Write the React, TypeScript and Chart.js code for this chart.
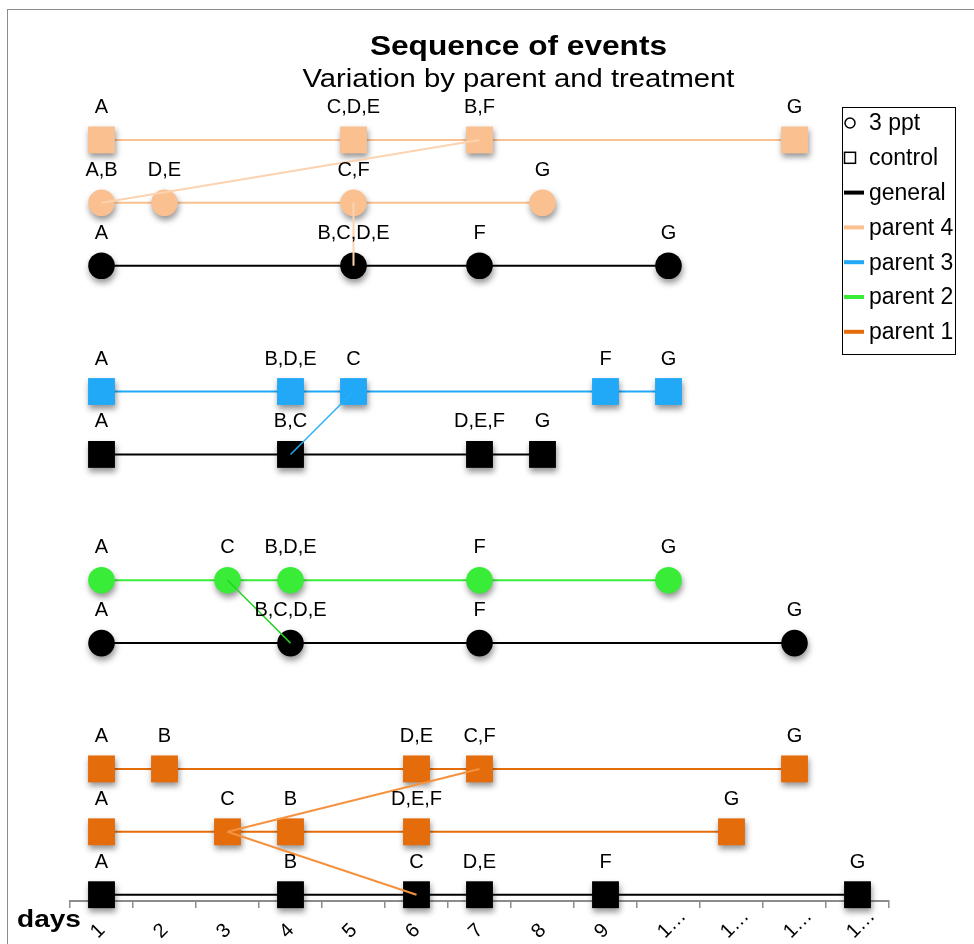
import React, { useEffect, useRef } from 'react';
import { Chart, registerables } from 'chart.js';

Chart.register(...registerables);

const FONT = '"Liberation Sans", Arial, Helvetica, sans-serif';

// ---------- categories / ticks ----------
const DAY_CATEGORIES = ['1', '2', '3', '4', '5', '6', '7', '8', '9', '10', '11', '12', '13'];
const DAY_TICK_LABELS = ['1', '2', '3', '4', '5', '6', '7', '8', '9', '1…', '1…', '1…', '1…'];

const TITLE = 'Sequence of events';
const SUBTITLE = 'Variation by parent and treatment';
const AXIS_TITLE = 'days';

// ---------- row levels (y values) ----------
const ROW_P4_CONTROL = 12;
const ROW_P4_PPT = 11;
const ROW_GEN_PPT_A = 10;
const ROW_P3_CONTROL = 8;
const ROW_GEN_CONTROL_A = 7;
const ROW_P2_PPT = 5;
const ROW_GEN_PPT_B = 4;
const ROW_P1_CONTROL_A = 2;
const ROW_P1_CONTROL_B = 1;
const ROW_GEN_CONTROL_B = 0;

// ---------- event days per row ----------
const P4_CONTROL_DAYS = [1, 5, 7, 12];
const P4_CONTROL_LABELS = ['A', 'C,D,E', 'B,F', 'G'];

const P4_PPT_DAYS = [1, 2, 5, 8];
const P4_PPT_LABELS = ['A,B', 'D,E', 'C,F', 'G'];

const GEN_PPT_A_DAYS = [1, 5, 7, 10];
const GEN_PPT_A_LABELS = ['A', 'B,C,D,E', 'F', 'G'];

const P3_CONTROL_DAYS = [1, 4, 5, 9, 10];
const P3_CONTROL_LABELS = ['A', 'B,D,E', 'C', 'F', 'G'];

const GEN_CONTROL_A_DAYS = [1, 4, 7, 8];
const GEN_CONTROL_A_LABELS = ['A', 'B,C', 'D,E,F', 'G'];

const P2_PPT_DAYS = [1, 3, 4, 7, 10];
const P2_PPT_LABELS = ['A', 'C', 'B,D,E', 'F', 'G'];

const GEN_PPT_B_DAYS = [1, 4, 7, 12];
const GEN_PPT_B_LABELS = ['A', 'B,C,D,E', 'F', 'G'];

const P1_CONTROL_A_DAYS = [1, 2, 6, 7, 12];
const P1_CONTROL_A_LABELS = ['A', 'B', 'D,E', 'C,F', 'G'];

const P1_CONTROL_B_DAYS = [1, 3, 4, 6, 11];
const P1_CONTROL_B_LABELS = ['A', 'C', 'B', 'D,E,F', 'G'];

const GEN_CONTROL_B_DAYS = [1, 4, 6, 7, 9, 13];
const GEN_CONTROL_B_LABELS = ['A', 'B', 'C', 'D,E', 'F', 'G'];

// ---------- connector links: [day, row] -> [day, row] ----------
const LINK_P4_B = [[1, ROW_P4_PPT], [7, ROW_P4_CONTROL]];
const LINK_P4_C = [[5, ROW_P4_PPT], [5, ROW_GEN_PPT_A]];
const LINK_P3_C = [[5, ROW_P3_CONTROL], [4, ROW_GEN_CONTROL_A]];
const LINK_P2_C = [[3, ROW_P2_PPT], [4, ROW_GEN_PPT_B]];
const LINK_P1_C_UP = [[3, ROW_P1_CONTROL_B], [7, ROW_P1_CONTROL_A]];
const LINK_P1_C_DOWN = [[3, ROW_P1_CONTROL_B], [6, ROW_GEN_CONTROL_B]];

// ---------- colours ----------
const C_GENERAL = '#000000';
const C_P4 = '#fac090';
const C_P3 = '#21a9f7';
const C_P2 = '#38ec38';
const C_P1 = '#e46c0a';
const C_P4_LINK = '#fcd3b0';
const C_P3_LINK = '#2aaef5';
const C_P2_LINK = '#26d326';
const C_P1_LINK = '#f5923f';

const LEGEND_ITEMS = [
  { label: '3 ppt', kind: 'circle', color: '#000' },
  { label: 'control', kind: 'square', color: '#000' },
  { label: 'general', kind: 'line', color: C_GENERAL },
  { label: 'parent 4', kind: 'line', color: C_P4 },
  { label: 'parent 3', kind: 'line', color: C_P3 },
  { label: 'parent 2', kind: 'line', color: C_P2 },
  { label: 'parent 1', kind: 'line', color: C_P1 },
];

const SQUARE_RADIUS = 19; // rect side = radius * sqrt(2)
const CIRCLE_RADIUS = 13.3;

function toPoints(days: number[], row: number) {
  return days.map((d) => ({ x: String(d), y: row }));
}

function rowDatasets(days: number[], labels: string[], row: number, color: string, shape: 'rect' | 'circle') {
  const data = toPoints(days, row);
  return [
    {
      data,
      borderColor: color,
      borderWidth: 2,
      pointRadius: 0,
      pointHoverRadius: 0,
      showLine: true,
      fill: false,
      order: 2,
      clip: false,
    },
    {
      data,
      showLine: false,
      pointStyle: shape,
      pointRadius: shape === 'rect' ? SQUARE_RADIUS : CIRCLE_RADIUS,
      pointHoverRadius: shape === 'rect' ? SQUARE_RADIUS : CIRCLE_RADIUS,
      pointBackgroundColor: color,
      pointBorderWidth: 0,
      pointBorderColor: color,
      borderColor: color,
      order: 1,
      clip: false,
      markerShadow: true,
      pointLabels: labels,
    },
  ];
}

function linkDataset(link: number[][], color: string, width: number) {
  return {
    data: link.map(([d, r]) => ({ x: String(d), y: r })),
    borderColor: color,
    borderWidth: width,
    pointRadius: 0,
    pointHoverRadius: 0,
    showLine: true,
    fill: false,
    order: 0,
    clip: false,
  };
}

const shadowPlugin = {
  id: 'markerShadow',
  beforeDatasetDraw(chart: any, args: any) {
    const ds = chart.data.datasets[args.index];
    if (ds.markerShadow) {
      const ctx = chart.ctx;
      ctx.save();
      ctx.shadowColor = 'rgba(0,0,0,0.42)';
      ctx.shadowBlur = 6;
      ctx.shadowOffsetX = 1;
      ctx.shadowOffsetY = 4;
    }
  },
  afterDatasetDraw(chart: any, args: any) {
    const ds = chart.data.datasets[args.index];
    if (ds.markerShadow) chart.ctx.restore();
  },
};

const pointLabelPlugin = {
  id: 'pointLabels',
  afterDatasetsDraw(chart: any) {
    const ctx = chart.ctx;
    ctx.save();
    ctx.font = `20px ${FONT}`;
    ctx.fillStyle = '#000';
    ctx.textAlign = 'center';
    ctx.textBaseline = 'alphabetic';
    chart.data.datasets.forEach((ds: any, i: number) => {
      if (!ds.pointLabels) return;
      const meta = chart.getDatasetMeta(i);
      meta.data.forEach((pt: any, j: number) => {
        ctx.fillText(ds.pointLabels[j], pt.x, pt.y - 27);
      });
    });
    ctx.restore();
  },
};

function stretchedText(ctx: any, text: string, font: string, cx: number, baseline: number, sx: number) {
  ctx.save();
  ctx.font = font;
  ctx.fillStyle = '#000';
  ctx.textAlign = 'center';
  ctx.textBaseline = 'alphabetic';
  ctx.translate(cx, baseline);
  ctx.scale(sx, 1);
  ctx.fillText(text, 0, 0);
  ctx.restore();
}

const decorPlugin = {
  id: 'decor',
  afterDraw(chart: any) {
    const ctx = chart.ctx;
    const xs = chart.scales.x;
    const cx = chart.width / 2;

    // title + subtitle, centred on the whole chart
    stretchedText(ctx, TITLE, `bold 28px ${FONT}`, cx, 45, 1.13);
    stretchedText(ctx, SUBTITLE, `25px ${FONT}`, cx, 77, 1.17);

    // rotated tick labels
    ctx.save();
    ctx.font = `20px ${FONT}`;
    ctx.fillStyle = '#000';
    ctx.textAlign = 'left';
    ctx.textBaseline = 'alphabetic';
    DAY_TICK_LABELS.forEach((lab, i) => {
      const x = xs.getPixelForTick(i) - 3.5;
      const y = xs.top + 38;
      ctx.save();
      ctx.translate(x, y);
      ctx.rotate(-Math.PI / 4);
      ctx.fillText(lab, 0, 0);
      ctx.restore();
    });
    ctx.restore();

    // axis title "days"
    ctx.save();
    ctx.font = `bold 23px ${FONT}`;
    ctx.fillStyle = '#000';
    ctx.textAlign = 'left';
    ctx.textBaseline = 'alphabetic';
    ctx.translate(9, xs.top + 26);
    ctx.scale(1.22, 1);
    ctx.fillText(AXIS_TITLE, 0, 0);
    ctx.restore();

    // legend
    const bx = 834, by = 97, bw = 113, bh = 247;
    ctx.save();
    ctx.strokeStyle = '#000';
    ctx.lineWidth = 1;
    ctx.strokeRect(bx + 0.5, by + 0.5, bw, bh);
    ctx.font = `23px ${FONT}`;
    ctx.textAlign = 'left';
    ctx.textBaseline = 'middle';
    LEGEND_ITEMS.forEach((it, i) => {
      const cy = by + 16 + i * 34.8;
      ctx.strokeStyle = it.color;
      ctx.fillStyle = it.color;
      if (it.kind === 'circle') {
        ctx.lineWidth = 1.5;
        ctx.beginPath();
        ctx.arc(bx + 8, cy, 5, 0, Math.PI * 2);
        ctx.stroke();
      } else if (it.kind === 'square') {
        ctx.lineWidth = 1.5;
        ctx.strokeRect(bx + 2.5, cy - 5.5, 11, 11);
      } else {
        ctx.lineWidth = 4;
        ctx.beginPath();
        ctx.moveTo(bx + 2, cy);
        ctx.lineTo(bx + 22, cy);
        ctx.stroke();
      }
      ctx.fillStyle = '#000';
      ctx.fillText(it.label, bx + 27, cy + 1);
    });
    ctx.restore();
  },
};

export default function App() {
  const ref = useRef<HTMLCanvasElement>(null);

  useEffect(() => {
    const datasets: any[] = [
      ...rowDatasets(P4_CONTROL_DAYS, P4_CONTROL_LABELS, ROW_P4_CONTROL, C_P4, 'rect'),
      ...rowDatasets(P4_PPT_DAYS, P4_PPT_LABELS, ROW_P4_PPT, C_P4, 'circle'),
      ...rowDatasets(GEN_PPT_A_DAYS, GEN_PPT_A_LABELS, ROW_GEN_PPT_A, C_GENERAL, 'circle'),
      ...rowDatasets(P3_CONTROL_DAYS, P3_CONTROL_LABELS, ROW_P3_CONTROL, C_P3, 'rect'),
      ...rowDatasets(GEN_CONTROL_A_DAYS, GEN_CONTROL_A_LABELS, ROW_GEN_CONTROL_A, C_GENERAL, 'rect'),
      ...rowDatasets(P2_PPT_DAYS, P2_PPT_LABELS, ROW_P2_PPT, C_P2, 'circle'),
      ...rowDatasets(GEN_PPT_B_DAYS, GEN_PPT_B_LABELS, ROW_GEN_PPT_B, C_GENERAL, 'circle'),
      ...rowDatasets(P1_CONTROL_A_DAYS, P1_CONTROL_A_LABELS, ROW_P1_CONTROL_A, C_P1, 'rect'),
      ...rowDatasets(P1_CONTROL_B_DAYS, P1_CONTROL_B_LABELS, ROW_P1_CONTROL_B, C_P1, 'rect'),
      ...rowDatasets(GEN_CONTROL_B_DAYS, GEN_CONTROL_B_LABELS, ROW_GEN_CONTROL_B, C_GENERAL, 'rect'),
      linkDataset(LINK_P4_B, C_P4_LINK, 2),
      linkDataset(LINK_P4_C, C_P4_LINK, 2),
      linkDataset(LINK_P3_C, C_P3_LINK, 1.5),
      linkDataset(LINK_P2_C, C_P2_LINK, 1.5),
      linkDataset(LINK_P1_C_UP, C_P1_LINK, 2),
      linkDataset(LINK_P1_C_DOWN, C_P1_LINK, 2),
    ];

    const chart = new Chart(ref.current as HTMLCanvasElement, {
      type: 'line',
      data: { labels: DAY_CATEGORIES, datasets },
      options: {
        responsive: false,
        animation: false,
        events: [],
        layout: { padding: { left: 62, right: 140, top: 90.3, bottom: 19 } },
        plugins: {
          legend: { display: false },
          tooltip: { enabled: false },
          title: { display: false },
          subtitle: { display: false },
        },
        scales: {
          x: {
            type: 'category',
            offset: true,
            grid: {
              display: true,
              offset: true,
              drawOnChartArea: false,
              drawTicks: true,
              tickLength: 7,
              color: '#8c8c8c',
              lineWidth: 1.5,
            },
            border: { display: true, color: '#8c8c8c', width: 2 },
            ticks: { display: false },
            afterFit: (s: any) => {
              s.height = 50;
            },
          },
          y: {
            type: 'linear',
            display: false,
            min: -0.1,
            max: 12.63,
          },
        },
      } as any,
      plugins: [shadowPlugin, pointLabelPlugin, decorPlugin],
    });
    return () => chart.destroy();
  }, []);

  return (
    <div
      style={{
        position: 'fixed',
        left: 0,
        top: 0,
        width: 974,
        height: 944,
        overflow: 'hidden',
        background: '#fff',
      }}
    >
      <div
        style={{
          position: 'absolute',
          left: 7,
          top: 9,
          width: 1021,
          height: 960,
          border: '1px solid #8c8c8c',
        }}
      >
        <canvas ref={ref} width={1021} height={960} style={{ display: 'block', width: 1021, height: 960 }} />
      </div>
    </div>
  );
}
